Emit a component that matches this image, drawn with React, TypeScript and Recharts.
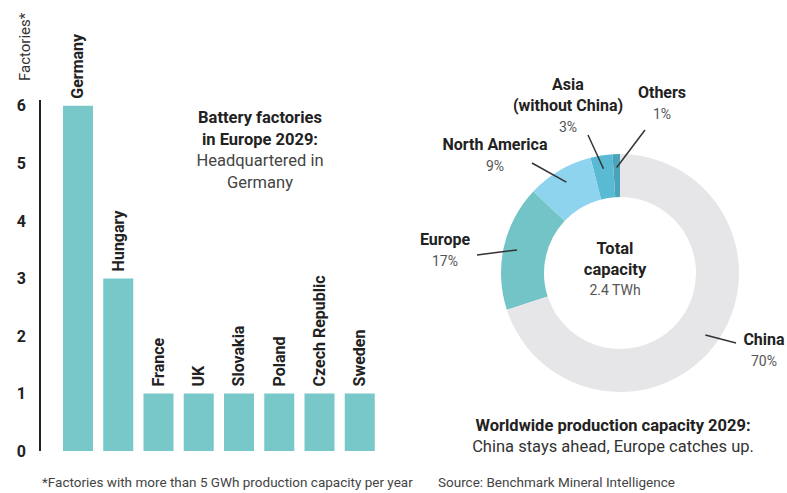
import { Bar, BarChart, Cell, LabelList, Pie, PieChart, XAxis, YAxis } from 'recharts'

const countries = ['Germany', 'Hungary', 'France', 'UK', 'Slovakia', 'Poland', 'Czech Republic', 'Sweden']
const factories = [6, 3, 1, 1, 1, 1, 1, 1]
const yTicks = [0, 1, 2, 3, 4, 5, 6]

const regions = ['Others', 'Asia', 'North America', 'Europe', 'China']
const shares = [1, 3, 9, 17, 70]

const FONT = 'Roboto, "Liberation Sans", Arial, sans-serif'
const INK = '#222'
const TEAL = '#78c8ca'
const SLICE_COLORS: Record<string, string> = {
  Others: '#4aa3b8',
  Asia: '#5ab9d3',
  'North America': '#8fd4ef',
  Europe: '#72c4c6',
  China: '#e6e6e8',
}

// where each donut label sits, relative to the pie centre
const LABEL_LAYOUT: Record<string, { lines: string[]; tx: number; ty: number; ex: number; ey: number }> = {
  Others: { lines: ['Others'], tx: 42, ty: -175, ex: 25, ey: -143 },
  Asia: { lines: ['Asia', '(without China)'], tx: -52, ty: -183, ex: -32, ey: -138 },
  'North America': { lines: ['North America'], tx: -125, ty: -123, ex: -88, ey: -110 },
  Europe: { lines: ['Europe'], tx: -175, ty: -28, ex: -143, ey: -18 },
  China: { lines: ['China'], tx: 144, ty: 72, ex: 116, ey: 70 },
}

const barData = countries.map((c, i) => ({ country: c, value: factories[i] }))
const pieData = regions.map((r, i) => ({ name: r, value: shares[i] }))

const RAD = Math.PI / 180

function BarName(props: any) {
  const { x, y, width, value } = props
  const cx = x + width / 2
  const ty = y - 7
  return (
    <text
      x={cx}
      y={ty}
      transform={`rotate(-90 ${cx} ${ty})`}
      textAnchor="start"
      dominantBaseline="central"
      fontFamily={FONT}
      fontWeight={700}
      fontSize={16}
      fill={INK}
    >
      {value}
    </text>
  )
}

function SliceLabel(props: any) {
  const { cx, cy, midAngle, innerRadius, outerRadius, name, value } = props
  const lay = LABEL_LAYOUT[name]
  if (!lay) return null
  const r = (innerRadius + outerRadius) / 2 + 8
  const sx = cx + r * Math.cos(-midAngle * RAD)
  const sy = cy + r * Math.sin(-midAngle * RAD)
  const tx = cx + lay.tx
  const ty = cy + lay.ty
  return (
    <g>
      <line x1={sx} y1={sy} x2={cx + lay.ex} y2={cy + lay.ey} stroke="#333" strokeWidth={1.5} />
      <text x={tx} y={ty} textAnchor="middle" fontFamily={FONT} fontSize={16} fill={INK}>
        {lay.lines.map((l, i) => (
          <tspan key={i} x={tx} dy={i === 0 ? 0 : 21} fontWeight={700}>
            {l}
          </tspan>
        ))}
        <tspan x={tx} dy={21} fontSize={14} fill="#555">
          {value}%
        </tspan>
      </text>
    </g>
  )
}

export default function App() {
  return (
    <div
      style={{
        position: 'absolute',
        left: 0,
        top: 0,
        width: 787,
        height: 493,
        background: '#fff',
        fontFamily: FONT,
      }}
    >
      <div style={{ position: 'absolute', left: 0, top: 0 }}>
        <BarChart
          width={400}
          height={493}
          data={barData}
          margin={{ top: 100, right: 14, left: 0, bottom: 42 }}
          barSize={30}
        >
          <XAxis
            dataKey="country"
            tick={false}
            tickLine={false}
            height={0}
            padding={{ left: 18, right: 6 }}
            axisLine={{ stroke: INK, strokeWidth: 2 }}
          />
          <YAxis
            width={40}
            domain={[0, 6.1]}
            ticks={yTicks}
            tickLine={false}
            tickSize={0}
            tickMargin={14}
            axisLine={{ stroke: INK, strokeWidth: 2 }}
            tick={{ fontSize: 16, fontWeight: 700, fill: INK, fontFamily: FONT }}
          />
          <Bar dataKey="value" fill={TEAL} isAnimationActive={false}>
            <LabelList dataKey="country" content={<BarName />} />
          </Bar>
        </BarChart>
      </div>

      <div style={{ position: 'absolute', left: 400, top: 0 }}>
        <PieChart width={387} height={493}>
          <Pie
            data={pieData}
            dataKey="value"
            nameKey="name"
            cx={215}
            cy={268}
            innerRadius={76}
            outerRadius={119}
            startAngle={90}
            endAngle={450}
            stroke="none"
            label={<SliceLabel />}
            labelLine={false}
            isAnimationActive={false}
          >
            {pieData.map((d) => (
              <Cell key={d.name} fill={SLICE_COLORS[d.name]} />
            ))}
          </Pie>
        </PieChart>
      </div>

      <svg
        width={787}
        height={493}
        style={{ position: 'absolute', left: 0, top: 0, pointerEvents: 'none' }}
        fontFamily={FONT}
      >
        <text
          x={25}
          y={81}
          transform="rotate(-90 25 81)"
          fontSize={15}
          fill="#333"
          dominantBaseline="central"
        >
          Factories*
        </text>

        <text x={260} y={123} textAnchor="middle" fontSize={16.5} fill={INK}>
          <tspan x={260} fontWeight={700}>Battery factories</tspan>
          <tspan x={260} dy={21.5} fontWeight={700}>in Europe 2029:</tspan>
          <tspan x={260} dy={21.5} fill="#444">Headquartered in</tspan>
          <tspan x={260} dy={21.5} fill="#444">Germany</tspan>
        </text>

        <text x={615} y={254} textAnchor="middle" fontSize={16.5} fill={INK}>
          <tspan x={615} fontWeight={700}>Total</tspan>
          <tspan x={615} dy={21} fontWeight={700}>capacity</tspan>
          <tspan x={615} dy={20} fontSize={14} fill="#555">2.4 TWh</tspan>
        </text>

        <text x={613} y={431} textAnchor="middle" fontSize={16.5} fill={INK}>
          <tspan x={613} fontWeight={700}>Worldwide production capacity 2029:</tspan>
          <tspan x={613} dy={21} fill="#333">China stays ahead, Europe catches up.</tspan>
        </text>

        <text x={42} y={487} fontSize={13.5} fill="#444">
          *Factories with more than 5 GWh production capacity per year
        </text>
        <text x={438} y={487} fontSize={13.5} fill="#444">
          Source: Benchmark Mineral Intelligence
        </text>
      </svg>
    </div>
  )
}
